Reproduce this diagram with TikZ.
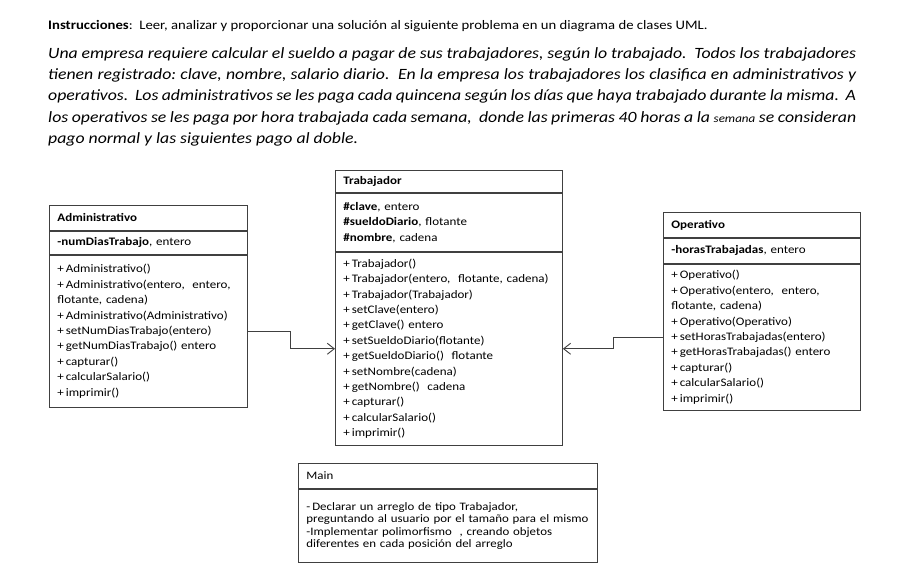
\documentclass[tikz,border=0pt]{standalone}
\usepackage{fontspec}
\setmainfont{Carlito}[FakeStretch=1.13]
\usetikzlibrary{positioning}
\usetikzlibrary{arrows.meta}

\newcommand{\umlfont}{\fontsize{11.5}{15.4}\selectfont\frenchspacing}
\newcommand{\mainfont}{\fontsize{11.4}{12.5}\selectfont\frenchspacing}
\tikzset{
  umlpart/.style={draw=black!75, line width=0.9pt, inner xsep=8pt, inner ysep=0pt, align=left, font=\umlfont, anchor=north west},
  umlarrow/.style={draw=black!75, line width=0.9pt, -{Straight Barb[length=7pt,width=11pt]}}
}

\begin{document}
\begin{tikzpicture}[x=1pt,y=-1pt]
\useasboundingbox[fill=white] (0,0) rectangle (917,570);

% Enunciado
\node[anchor=base west, inner sep=0pt, font=\fontsize{13}{15}\selectfont\frenchspacing] (instr) at (48,29)
  {\textbf{Instrucciones}:\ \ Leer, analizar y proporcionar una solución al siguiente problema en un diagrama de clases UML.};
\node[anchor=north west, inner sep=0pt, align=left, font=\fontsize{15.7}{21.4}\selectfont\itshape\frenchspacing] (enunciado) at (48,47)
  {\makebox[808pt][s]{Una empresa requiere calcular el sueldo a pagar de sus trabajadores, según lo trabajado.\ \ Todos los trabajadores}\\
   \makebox[808pt][s]{tienen registrado: clave, nombre, salario diario.\ \ En la empresa los trabajadores los clasifica en administrativos y}\\
   \makebox[808pt][s]{operativos.\ \ Los administrativos se les paga cada quincena según los días que haya trabajado durante la misma.\ \ A}\\
   \makebox[808pt][s]{los operativos se les paga por hora trabajada cada semana,\ \ donde las primeras 40 horas a la {\fontsize{11.5}{13}\selectfont semana} se consideran}\\
   pago normal y las siguientes pago al doble.};

% Trabajador
\node[umlpart, text width=211pt, minimum height=22pt] (tratit) at (335,170) {\textbf{Trabajador}};
\node[umlpart, text width=211pt, minimum height=58pt, below=0pt of tratit] (traatr)
  {\textbf{\#clave}, entero\\ \textbf{\#sueldoDiario}, flotante\\ \textbf{\#nombre}, cadena};
\node[umlpart, text width=211pt, minimum height=193pt, below=0pt of traatr] (tramet)
  {+\,Trabajador()\\ +\,Trabajador(entero,~ flotante, cadena)\\ +\,Trabajador(Trabajador)\\
   +\,setClave(entero)\\ +\,getClave() entero\\ +\,setSueldoDiario(flotante)\\
   +\,getSueldoDiario()~ flotante\\ +\,setNombre(cadena)\\ +\,getNombre()~ cadena\\
   +\,capturar()\\ +\,calcularSalario()\\ +\,imprimir()};

% Administrativo
\node[umlpart, text width=182pt, minimum height=25pt] (admtit) at (49,205) {\textbf{Administrativo}};
\node[umlpart, text width=182pt, minimum height=23pt, below=0pt of admtit] (admatr)
  {\textbf{-numDiasTrabajo}, entero};
\node[umlpart, text width=182pt, minimum height=152pt, below=0pt of admatr] (admmet)
  {+\,Administrativo()\\ +\,Administrativo(entero,~ entero,\\ flotante, cadena)\\
   +\,Administrativo(Administrativo)\\ +\,setNumDiasTrabajo(entero)\\
   +\,getNumDiasTrabajo() entero\\ +\,capturar()\\ +\,calcularSalario()\\ +\,imprimir()};

% Operativo
\node[umlpart, text width=181pt, minimum height=25pt] (opetit) at (663,212) {\textbf{Operativo}};
\node[umlpart, text width=181pt, minimum height=25pt, below=0pt of opetit] (opeatr)
  {\textbf{-horasTrabajadas}, entero};
\node[umlpart, text width=181pt, minimum height=146pt, below=0pt of opeatr] (opemet)
  {+\,Operativo()\\ +\,Operativo(entero,~ entero,\\ flotante, cadena)\\
   +\,Operativo(Operativo)\\ +\,setHorasTrabajadas(entero)\\
   +\,getHorasTrabajadas() entero\\ +\,capturar()\\ +\,calcularSalario()\\ +\,imprimir()};

% Main
\node[umlpart, text width=283pt, minimum height=25pt, font=\mainfont] (maintit) at (298,463) {Main};
\node[umlpart, text width=283pt, minimum height=73pt, font=\mainfont, below=0pt of maintit] (mainbody)
  {-\,Declarar un arreglo de tipo Trabajador,\\ preguntando al usuario por el tamaño para el mismo\\
   -Implementar polimorfismo~ , creando objetos\\ diferentes en cada posición del arreglo};

% Herencia
\draw[umlarrow] (admmet.east) -- ++(43,0) |- (tramet.west);
\draw[umlarrow] (opemet.west) -- ++(-50,0) |- (tramet.east);
\end{tikzpicture}
\end{document}
